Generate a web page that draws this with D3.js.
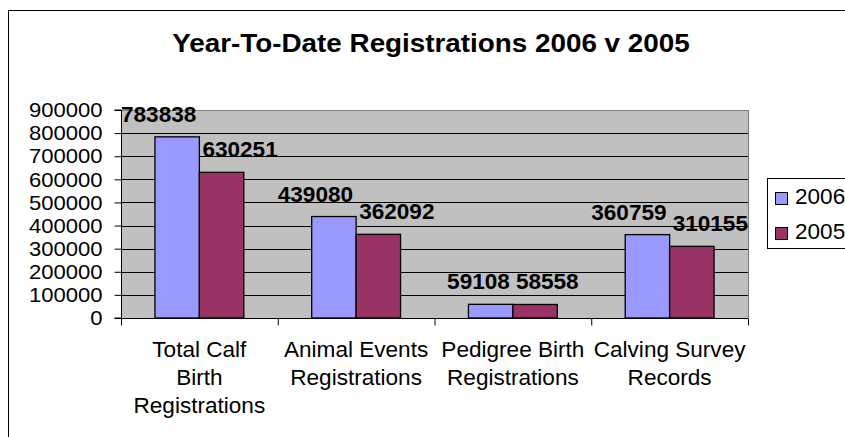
<!DOCTYPE html>
<html><head><meta charset="utf-8">
<script src="https://cdn.jsdelivr.net/npm/d3@7"></script>
<style>
html,body{margin:0;padding:0;background:#fff;}
svg{display:block;font-family:"Liberation Sans",Arial,sans-serif;}
</style></head>
<body>
<svg id="chart" width="845" height="437"></svg>
<script>
const title = "Year-To-Date Registrations 2006 v 2005";
const categories = [
  ["Total Calf", "Birth", "Registrations"],
  ["Animal Events", "Registrations"],
  ["Pedigree Birth", "Registrations"],
  ["Calving Survey", "Records"]
];
const seriesNames = ["2006", "2005"];
const values2006 = [783838, 439080, 59108, 360759];
const values2005 = [630251, 362092, 58558, 310155];
const yTicks = [0, 100000, 200000, 300000, 400000, 500000, 600000, 700000, 800000, 900000];
const colors = ["#9999FF", "#993366"];

const svg = d3.select("#chart");
const W = 845, H = 437;
const plot = {left: 121, right: 748, top: 110, bottom: 318};
const SX = 1.05; // horizontal stretch of text seen in the reference

function stretch(sel, cx) {
  sel.attr("transform", `translate(${cx},0) scale(${SX},1) translate(${-cx},0)`);
}

// outer chart border
svg.append("rect").attr("x", 8.5).attr("y", 10.5).attr("width", W + 10).attr("height", H + 10)
  .attr("fill", "#fff").attr("stroke", "#000").attr("stroke-width", 1);

// title
const tt = svg.append("text").attr("x", 431).attr("y", 52).attr("text-anchor", "middle")
  .attr("font-size", 26.5).attr("font-weight", "bold").text(title);
stretch(tt, 431);

const catIdx = categories.map((d, i) => i);
const x0 = d3.scaleBand().domain(catIdx).range([plot.left, plot.right]).paddingInner(0).paddingOuter(0);
const x1 = d3.scaleBand().domain(seriesNames).range([0, x0.bandwidth()]).paddingInner(0).paddingOuter(0.764);
const y = d3.scaleLinear().domain([0, 900000]).range([plot.bottom, plot.top]);

// plot background
svg.append("rect").attr("x", plot.left).attr("y", plot.top)
  .attr("width", plot.right - plot.left).attr("height", plot.bottom - plot.top)
  .attr("fill", "#C0C0C0");

// gridlines
svg.append("g").selectAll("line").data(yTicks.filter(t => t > 0 && t < 900000)).join("line")
  .attr("x1", plot.left).attr("x2", plot.right)
  .attr("y1", d => Math.round(y(d)) + 0.5).attr("y2", d => Math.round(y(d)) + 0.5)
  .attr("stroke", "#000").attr("stroke-width", 1);

// plot border (top, right) grey
svg.append("path")
  .attr("d", `M${plot.left},${plot.top + 0.5}H${plot.right + 0.5}V${plot.bottom}`)
  .attr("fill", "none").attr("stroke", "#808080").attr("stroke-width", 1.2);

// bars
const data = catIdx.map(i => [
  {s: "2006", v: values2006[i], c: colors[0], i},
  {s: "2005", v: values2005[i], c: colors[1], i}
]);
const groups = svg.append("g").selectAll("g").data(data).join("g")
  .attr("transform", (d, i) => `translate(${x0(i)},0)`);
groups.selectAll("rect").data(d => d).join("rect")
  .attr("x", d => x1(d.s)).attr("y", d => y(d.v))
  .attr("width", x1.bandwidth()).attr("height", d => y(0) - y(d.v))
  .attr("fill", d => d.c).attr("stroke", "#000").attr("stroke-width", 1.3);

// y axis
const yAxis = d3.axisLeft(y).tickValues(yTicks).tickSize(7).tickPadding(12).tickFormat(d3.format("d"));
const ga = svg.append("g").attr("transform", `translate(${plot.left + 0.5},0)`).call(yAxis);
ga.selectAll("text").attr("font-size", 21).attr("font-family", "Liberation Sans, Arial, sans-serif").attr("fill", "#000")
  .attr("transform", `translate(-19,0) scale(${SX},1) translate(19,0)`);
ga.selectAll("line,path").attr("stroke", "#000");
ga.select(".domain").attr("d", `M-7,${y(900000)}H0V${y(0)}H-7`);

// x axis
const xb = d3.scaleLinear().domain([0, categories.length]).range([plot.left, plot.right]);
const xAxis = d3.axisBottom(xb).ticks(categories.length).tickSize(7).tickFormat("");
const gx = svg.append("g").attr("transform", `translate(0,${plot.bottom + 0.5})`).call(xAxis);
gx.selectAll("line,path").attr("stroke", "#000");
gx.select(".domain").attr("d", `M${plot.left},0H${plot.right}`);

// category labels
const catG = svg.append("g");
categories.forEach((lines, i) => {
  const cx = x0(i) + x0.bandwidth() / 2;
  const t = catG.append("text").attr("text-anchor", "middle").attr("font-size", 21.5)
    .attr("x", cx).attr("y", 357);
  lines.forEach((ln, k) => {
    t.append("tspan").attr("x", cx).attr("y", 357 + k * 28).text(ln);
  });
  stretch(t, cx);
});

// value labels, spread horizontally so paired labels never overlap
const labelG = svg.append("g");
data.forEach((pair, i) => {
  const items = pair.map(d => {
    const cx = x0(i) + x1(d.s) + x1.bandwidth() / 2;
    const t = labelG.append("text").attr("text-anchor", "middle").attr("font-size", 21.5)
      .attr("font-weight", "bold").attr("x", cx).attr("y", y(d.v) - 15).text(d.v);
    const bb = t.node().getBBox();
    return {t, cx, w: bb.width * SX};
  });
  const [a, b] = items;
  const need = (a.w + b.w) / 2 + 6;
  const dist = b.cx - a.cx;
  let ax = a.cx, bx = b.cx;
  if (dist < need) {
    const sh = (need - dist) / 2;
    ax -= sh; bx += sh;
  }
  a.t.attr("x", ax); stretch(a.t, ax);
  b.t.attr("x", bx); stretch(b.t, bx);
});

// legend
const lg = svg.append("g");
lg.append("rect").attr("x", 767.5).attr("y", 178.5).attr("width", 100).attr("height", 70)
  .attr("fill", "#fff").attr("stroke", "#000").attr("stroke-width", 1);
seriesNames.forEach((s, k) => {
  const yy = 192 + k * 35;
  lg.append("rect").attr("x", 775.5).attr("y", yy + 0.5).attr("width", 12).attr("height", 12)
    .attr("fill", colors[k]).attr("stroke", "#000").attr("stroke-width", 1);
  const t = lg.append("text").attr("x", 795).attr("y", yy + 12).attr("font-size", 21.5).text(s);
  stretch(t, 795);
});
</script>
</body></html>
